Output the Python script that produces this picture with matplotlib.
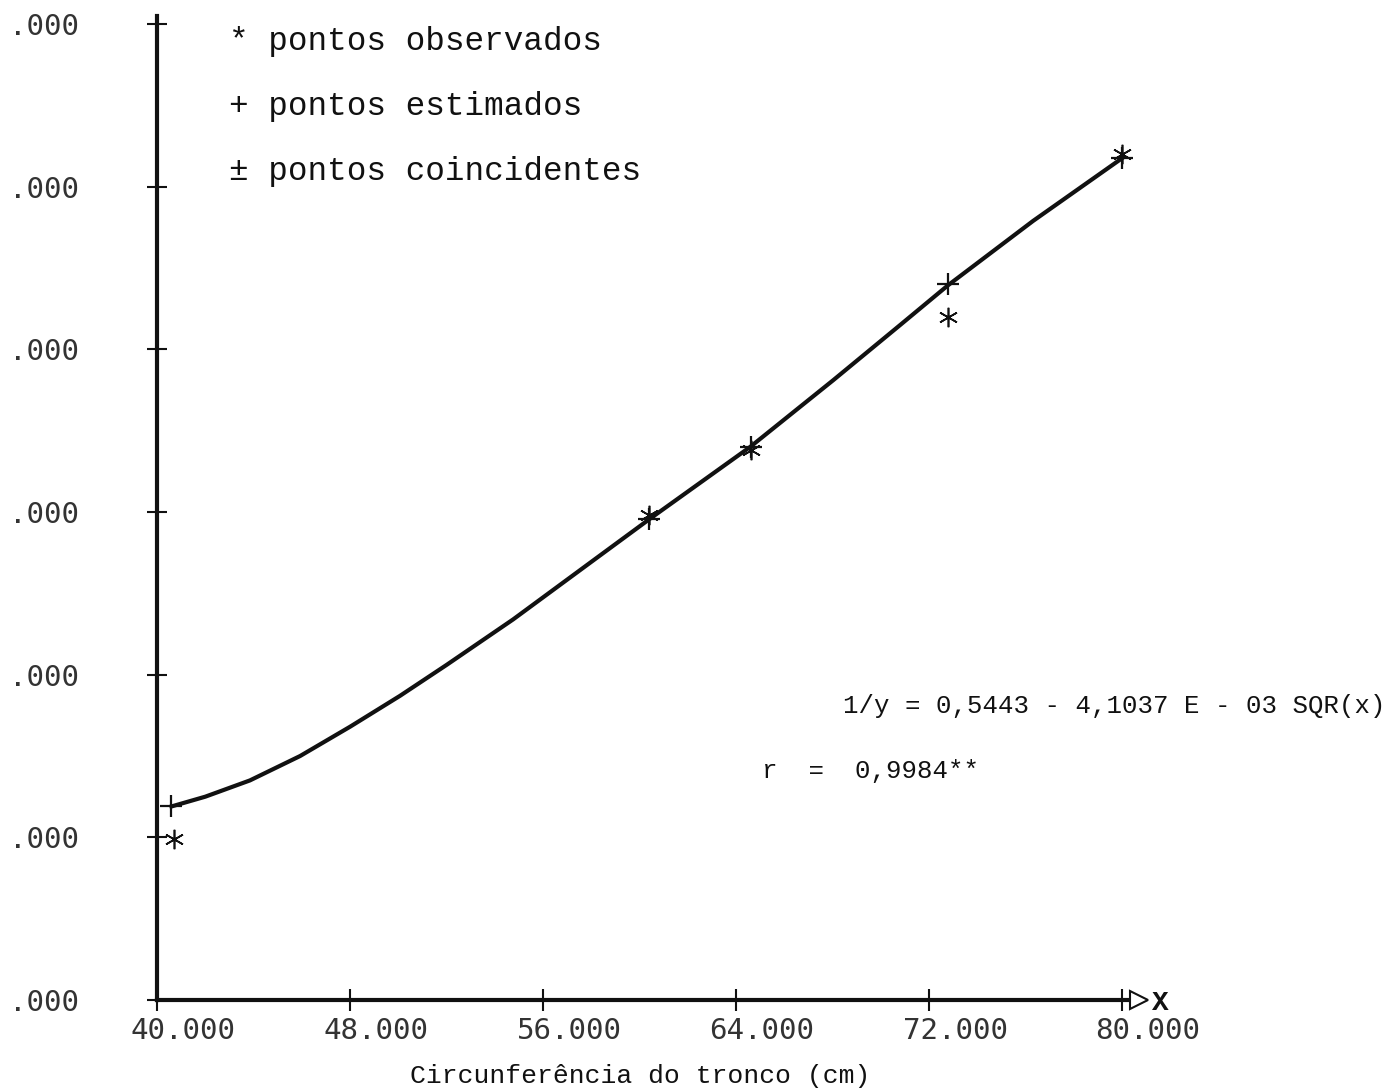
#!/usr/bin/env python3
"""Circunferencia do tronco: pontos observados x estimados."""

import matplotlib
matplotlib.use("Agg")
import matplotlib.pyplot as plt
from matplotlib.transforms import ScaledTranslation

# values (y in axis units, tick labels cut off)
x_ticks = [40, 48, 56, 64, 72, 80]
x_tick_labels = ["40.000", "48.000", "56.000", "64.000", "72.000", "80.000"]
y_ticks = [0, 1, 2, 3, 4, 5, 6]
y_tick_labels = [".000"] * 7

obs_x = [40.7, 60.4, 64.6, 72.8, 80.0]
obs_y = [0.99, 2.98, 3.38, 4.20, 5.20]

est_x = [40.6, 60.4, 64.6, 72.8, 80.0]
est_y = [1.19, 2.96, 3.40, 4.40, 5.18]

curve_x = [40.6, 42.0, 43.85, 45.93, 48.0, 50.07, 52.0, 54.76, 58.24, 60.44,
           64.58, 68.02, 70.8, 72.79, 76.31, 80.04]
curve_y = [1.19, 1.25, 1.35, 1.50, 1.68, 1.87, 2.06, 2.34, 2.72, 2.96,
           3.40, 3.81, 4.15, 4.395, 4.79, 5.18]

W, H = 1392, 1092
INK = "#111111"
MONO = "Liberation Mono"


def main():
    fig = plt.figure(figsize=(W / 100, H / 100), dpi=100)
    ax = fig.add_axes([157 / W, 92 / H, 982 / W, 984 / H])
    ax.set_xlim(40, 80.7)
    ax.set_ylim(0, 6.05)

    for s in ["top", "right"]:
        ax.spines[s].set_visible(False)
    for s in ["left", "bottom"]:
        ax.spines[s].set_linewidth(3)
        ax.spines[s].set_color(INK)

    # fitted curve and points
    ax.plot(curve_x, curve_y, color=INK, lw=3, zorder=3, solid_joinstyle="round")
    ax.plot(est_x, est_y, ls="none", marker="+", ms=16, mew=1.6,
            color=INK, zorder=4)
    ax.plot(obs_x, obs_y, ls="none", marker=(6, 2, 0), ms=14, mew=1.2,
            color=INK, zorder=4)

    # arrow at end of x axis
    ax.plot(80.7, 0, marker=">", ms=13, mfc="white", mec=INK, mew=1.5,
            clip_on=False, zorder=5)
    fig.text(1160 / W, 1 - 1003 / H, "X", fontsize=20, fontweight="bold",
             family=MONO, ha="center", va="center", color=INK)

    ax.set_xticks(x_ticks)
    ax.set_xticklabels(x_tick_labels, family="DejaVu Sans Mono", fontsize=21,
                       color="#333333")
    ax.set_yticks(y_ticks)
    ax.set_yticklabels(y_tick_labels, family="DejaVu Sans Mono", fontsize=21,
                       color="#333333")
    ax.tick_params(axis="x", direction="inout", length=16, width=1.5,
                   color=INK, pad=4)
    ax.tick_params(axis="y", direction="inout", length=14, width=1.5,
                   color=INK, pad=49)
    # the printed labels sit to the right of their ticks
    shift = ScaledTranslation(0.26, 0, fig.dpi_scale_trans)
    for lab in ax.get_xticklabels():
        lab.set_transform(lab.get_transform() + shift)

    fig.text(640 / W, 1 - 1076 / H, "Circunferência do tronco (cm)",
             family=MONO, fontsize=19, ha="center", va="center", color=INK)

    # legend block
    legend_rows = ["* pontos observados", "+ pontos estimados",
                   "± pontos coincidentes"]
    for txt, base in zip(legend_rows, [50, 115, 180]):
        fig.text(229 / W, 1 - base / H, txt, family=MONO, fontsize=23.5,
                 va="baseline", ha="left", color=INK)

    fig.text(843 / W, 1 - 713 / H, "1/y = 0,5443 - 4,1037 E - 03 SQR(x)",
             family=MONO, fontsize=18.5, va="baseline", ha="left", color=INK)
    fig.text(762 / W, 1 - 778 / H, "r  =  0,9984**",
             family=MONO, fontsize=18.5, va="baseline", ha="left", color=INK)

    fig.savefig("out.png", dpi=100)


if __name__ == "__main__":
    main()
